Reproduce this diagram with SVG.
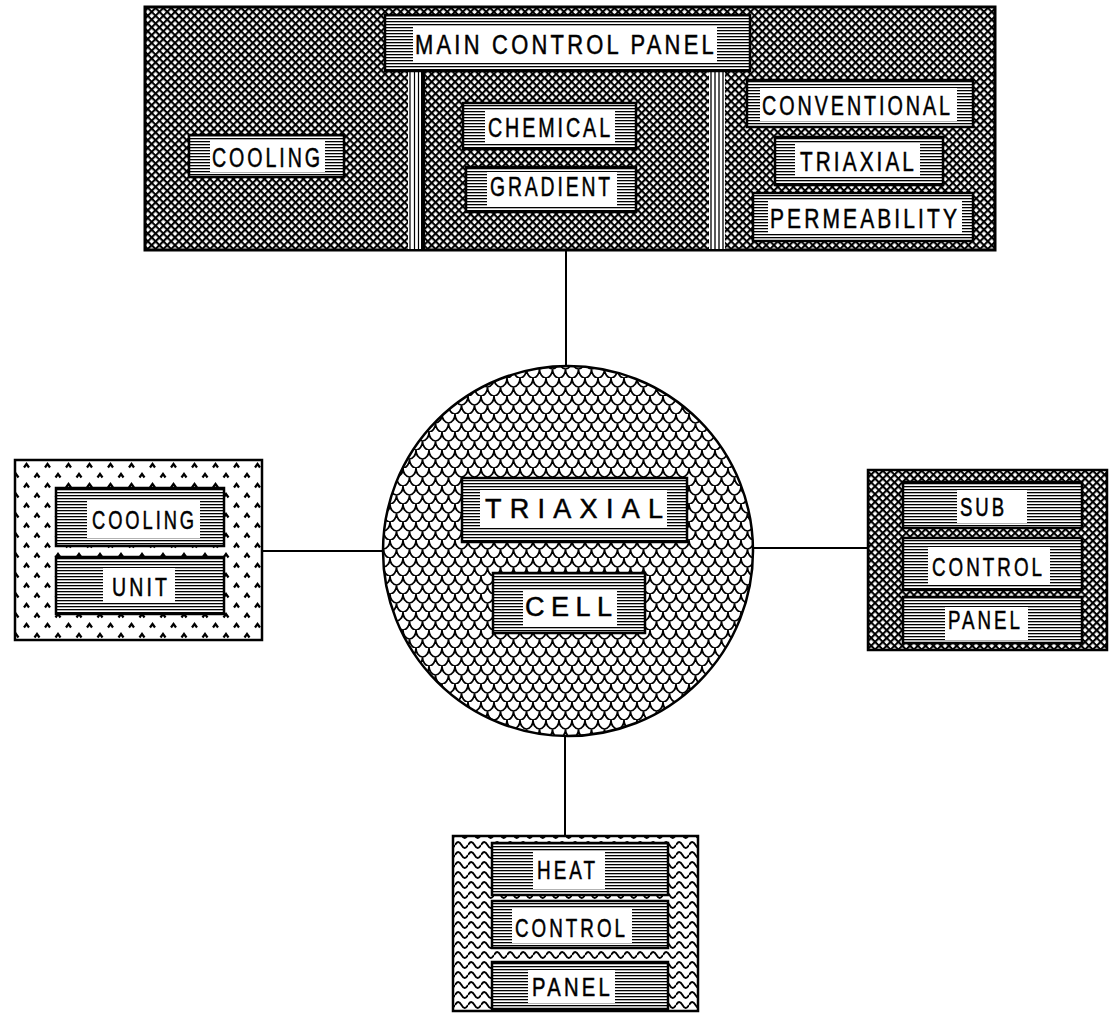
<svg xmlns="http://www.w3.org/2000/svg" width="1109" height="1020" viewBox="0 0 1109 1020">
<defs>
<pattern id="xh" width="5.5" height="5.5" patternUnits="userSpaceOnUse" patternTransform="rotate(45)"><rect width="5.5" height="5.5" fill="#000"/><rect x="1.2" y="1.2" width="3.4" height="3.4" fill="#fff"/></pattern>
<pattern id="st" width="4" height="3" patternUnits="userSpaceOnUse"><rect width="4" height="3" fill="#fff"/><rect width="4" height="1.3" fill="#000"/></pattern>
<pattern id="cv" width="21" height="20" patternUnits="userSpaceOnUse"><rect width="21" height="20" fill="#fff"/><path d="M3,7.5 L5.5,4 L8,7.5 M13.5,17.5 L16,14 L18.5,17.5" fill="none" stroke="#000" stroke-width="2.2"/></pattern>
<pattern id="sc" width="13" height="18" patternUnits="userSpaceOnUse"><rect width="13" height="18" fill="#fff"/><path d="M0,0 A6.5,9 0 0 0 13,0 M-6.5,9 A6.5,9 0 0 0 6.5,9 M6.5,9 A6.5,9 0 0 0 19.5,9 M0,18 A6.5,9 0 0 0 13,18" fill="none" stroke="#000" stroke-width="1.7"/></pattern>
<pattern id="wv" width="13" height="10" patternUnits="userSpaceOnUse"><rect width="13" height="10" fill="#fff"/><path d="M0,5 Q3.25,-1 6.5,5 T13,5" fill="none" stroke="#000" stroke-width="1.9"/></pattern>
</defs>
<style>
.frame{stroke:#000;stroke-width:3}
.box{fill:url(#st);stroke:#000;stroke-width:2.5}
.win{fill:#fff}
.t{font-family:"Liberation Sans",Arial,sans-serif;font-size:27px;fill:#000;stroke:#000;stroke-width:0.5;text-anchor:middle;letter-spacing:4px}
.s{font-size:25px}
.w{letter-spacing:0}
.con{stroke:#000;stroke-width:2;fill:none}
</style>
<rect width="1109" height="1020" fill="#fff"/>

<g id="connectors">
<line class="con" x1="566" y1="250" x2="566" y2="367"/>
<line class="con" x1="262" y1="551" x2="383" y2="551"/>
<line class="con" x1="753" y1="548" x2="868" y2="548"/>
<line class="con" x1="565" y1="735" x2="565" y2="836"/>
</g>

<g id="main-control-panel">
<rect class="frame" x="145" y="7" width="850" height="243" fill="url(#xh)"/>
<g id="pillar-left"><rect x="408" y="72" width="17" height="177" fill="#fff"/><path d="M410,72V249M414.5,72V249M418.5,72V249" stroke="#000" stroke-width="1.2"/><rect x="421" y="72" width="4" height="177" fill="#000"/></g>
<g id="pillar-right"><rect x="709" y="72" width="16" height="177" fill="#fff"/><path d="M711,72V249M715,72V249M719,72V249M723,72V249" stroke="#000" stroke-width="1.3"/></g>
<g id="lbl-main"><rect class="box" x="385" y="15" width="365" height="56"/><rect class="win" x="413" y="27" width="304" height="36"/><text class="t" x="566" y="54" textLength="302" lengthAdjust="spacingAndGlyphs">MAIN CONTROL PANEL</text></g>
<g id="lbl-cooling-top"><rect class="box" x="189" y="135" width="155" height="42"/><rect class="win" x="210" y="140" width="115" height="32"/><text class="t" x="267.5" y="167" textLength="111" lengthAdjust="spacingAndGlyphs">COOLING</text></g>
<g id="lbl-chemical"><rect class="box" x="463" y="103" width="173" height="46"/><rect class="win" x="485" y="111" width="130" height="33"/><text class="t" x="550.5" y="137" textLength="125" lengthAdjust="spacingAndGlyphs">CHEMICAL</text></g>
<g id="lbl-gradient"><rect class="box" x="466" y="167" width="170" height="45"/><rect class="win" x="487" y="172" width="130" height="34"/><text class="t" x="551.5" y="196" textLength="123" lengthAdjust="spacingAndGlyphs">GRADIENT</text></g>
<g id="lbl-conventional"><rect class="box" x="747" y="80" width="226" height="47"/><rect class="win" x="760" y="88" width="197" height="33"/><text class="t" x="857.5" y="115" textLength="191" lengthAdjust="spacingAndGlyphs">CONVENTIONAL</text></g>
<g id="lbl-triaxial-top"><rect class="box" x="775" y="137" width="168" height="48"/><rect class="win" x="795" y="144" width="125" height="33"/><text class="t" x="858.5" y="171" textLength="117" lengthAdjust="spacingAndGlyphs">TRIAXIAL</text></g>
<g id="lbl-permeability"><rect class="box" x="753" y="193" width="220" height="48"/><rect class="win" x="768" y="200" width="194" height="33"/><text class="t" x="865" y="228" textLength="190" lengthAdjust="spacingAndGlyphs">PERMEABILITY</text></g>
</g>

<g id="triaxial-cell">
<circle cx="568" cy="551" r="185" fill="url(#sc)" stroke="#000" stroke-width="2.5"/>
<g id="lbl-triaxial"><rect class="box" x="462" y="478" width="225" height="64"/><rect class="win" x="480" y="490" width="187" height="37"/><text class="t w" x="574" y="518" textLength="178" lengthAdjust="spacing">TRIAXIAL</text></g>
<g id="lbl-cell"><rect class="box" x="493" y="573" width="152" height="60"/><rect class="win" x="523" y="590" width="94" height="37"/><text class="t w" x="568.5" y="616" textLength="87" lengthAdjust="spacing">CELL</text></g>
</g>

<g id="cooling-unit">
<rect x="15" y="460" width="247" height="180" fill="url(#cv)" stroke="#000" stroke-width="2.5"/>
<g id="lbl-cooling"><rect class="box" x="56" y="488" width="168" height="58"/><rect class="win" x="87" y="500" width="113" height="38"/><text class="t s" x="144.5" y="529" textLength="105" lengthAdjust="spacingAndGlyphs">COOLING</text></g>
<g id="lbl-unit"><rect class="box" x="56" y="557" width="168" height="57"/><rect class="win" x="103" y="568" width="72" height="35"/><text class="t s" x="141" y="596" textLength="58" lengthAdjust="spacingAndGlyphs">UNIT</text></g>
</g>

<g id="sub-control-panel">
<rect x="868" y="470" width="239" height="180" fill="url(#xh)" stroke="#000" stroke-width="2.5"/>
<g id="lbl-sub"><rect class="box" x="903" y="482" width="179" height="46"/><rect class="win" x="957" y="490" width="70" height="33"/><text class="t s" x="983.5" y="516" textLength="47" lengthAdjust="spacingAndGlyphs">SUB</text></g>
<g id="lbl-control-r"><rect class="box" x="903" y="538" width="179" height="52"/><rect class="win" x="928" y="547" width="122" height="37"/><text class="t s" x="988.5" y="576" textLength="113" lengthAdjust="spacingAndGlyphs">CONTROL</text></g>
<g id="lbl-panel-r"><rect class="box" x="903" y="597" width="179" height="46"/><rect class="win" x="945" y="607" width="83" height="33"/><text class="t s" x="985.5" y="629" textLength="75" lengthAdjust="spacingAndGlyphs">PANEL</text></g>
</g>

<g id="heat-control-panel">
<rect x="453" y="836" width="245" height="175" fill="url(#wv)" stroke="#000" stroke-width="2.5"/>
<g id="lbl-heat"><rect class="box" x="492" y="843" width="176" height="52"/><rect class="win" x="533" y="852" width="72" height="37"/><text class="t s" x="567.5" y="879" textLength="61" lengthAdjust="spacingAndGlyphs">HEAT</text></g>
<g id="lbl-control-b"><rect class="box" x="492" y="901" width="176" height="47"/><rect class="win" x="512" y="908" width="120" height="35"/><text class="t s" x="571.5" y="937" textLength="113" lengthAdjust="spacingAndGlyphs">CONTROL</text></g>
<g id="lbl-panel-b"><rect class="box" x="492" y="962" width="176" height="47"/><rect class="win" x="528" y="970" width="87" height="33"/><text class="t s" x="572.5" y="996" textLength="81" lengthAdjust="spacingAndGlyphs">PANEL</text></g>
</g>
</svg>
